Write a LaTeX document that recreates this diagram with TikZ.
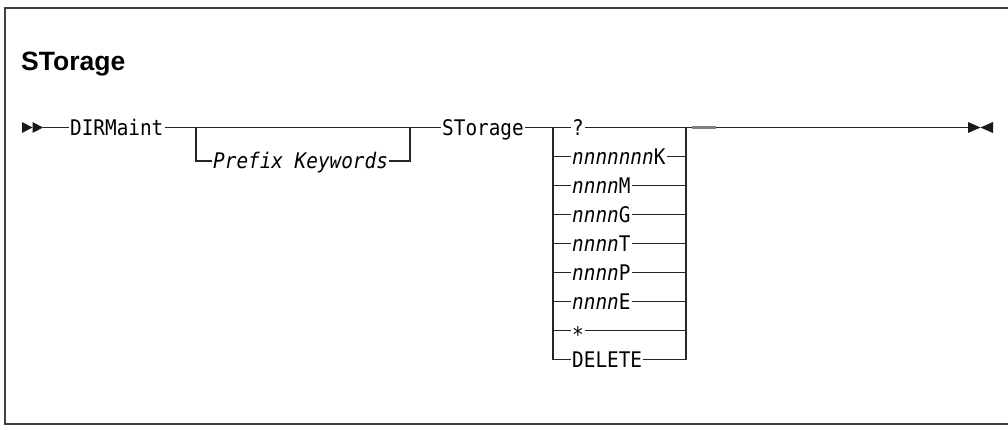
\documentclass[tikz,border=0pt]{standalone}
\usepackage{fontspec}
\setmainfont{Liberation Sans}
\newfontfamily\titlefont{Liberation Sans}
\newfontfamily\diagmono[FakeStretch=0.9,ItalicFont={DejaVu Sans Mono Oblique}]{DejaVu Sans Mono}
\begin{document}
\begin{tikzpicture}[x=1pt,y=-1pt,
  conn/.style={line width=1.3pt,draw=black!85},
  lbl/.style={anchor=west,inner xsep=1pt,inner ysep=0pt,text height=15.5pt,text depth=0pt,
    font=\diagmono\fontsize{21.5}{24}\selectfont},
  tip/.style={fill=black!90,draw=none}]
\useasboundingbox (0,0) rectangle (1008,429);
\draw[line width=1.5pt,draw=black!75] (1012,8) -- (5,8) -- (5,424) -- (1012,424);
\node[anchor=base west,inner sep=0pt,font=\titlefont\bfseries\fontsize{26.5}{30}\selectfont] (title) at (21,70) {STorage};
% start marker
\coordinate (s) at (43,127.5);
\fill[tip] (22,122) -- (32.5,127.5) -- (22,133) -- cycle;
\fill[tip] (32.5,122) -- (43,127.5) -- (32.5,133) -- cycle;
% nodes
\node[lbl] (dir) at (69,127.5) {DIRMaint};
\node[lbl] (pfx) at (212,161) {\itshape Prefix Keywords};
\node[lbl] (sto) at (441,127.5) {STorage};
\node[lbl] (q) at (571,127.5) {?};
\node[lbl] (k) at (571,156.5) {\itshape nnnnnnn\upshape K};
\node[lbl] (m) at (571,185.5) {\itshape nnnn\upshape M};
\node[lbl] (g) at (571,214.5) {\itshape nnnn\upshape G};
\node[lbl] (t) at (571,243.5) {\itshape nnnn\upshape T};
\node[lbl] (p) at (571,272.5) {\itshape nnnn\upshape P};
\node[lbl] (ee) at (571,301.5) {\itshape nnnn\upshape E};
\node[lbl] (st) at (571,330.5) {\raisebox{-4.5pt}{*}};
\node[lbl] (del) at (571,359.5) {DELETE};
% coordinates
\coordinate (b1) at (196,127.5);
\coordinate (b2) at (410,127.5);
\coordinate (cl) at (553,127.5);
\coordinate (cr) at (686,127.5);
\coordinate (e) at (968,127.5);
% main line
\draw[conn] (s) -- (dir.west);
\draw[conn] (dir.east) -- (sto.west);
\draw[conn] (b1) |- (pfx.west);
\draw[conn] (pfx.east) -| (b2);
\draw[conn] (sto.east) -- (q.west);
\draw[conn] (q.east) -- (e);
\draw[line width=2.2pt,draw=black!50] (692,127.5) -- (716,127.5);
% choice box
\draw[conn] (cl) |- (del.west);
\draw[conn] (del.east) -| (cr);
\foreach \r in {k,m,g,t,p,ee,st} {
  \draw[conn] (cl |- \r.west) -- (\r.west);
  \draw[conn] (\r.east) -- (cr |- \r.east);
}
% end marker
\fill[tip] (968,122) -- (980.5,127.5) -- (968,133) -- cycle;
\fill[tip] (993,122) -- (980.5,127.5) -- (993,133) -- cycle;
\end{tikzpicture}
\end{document}
